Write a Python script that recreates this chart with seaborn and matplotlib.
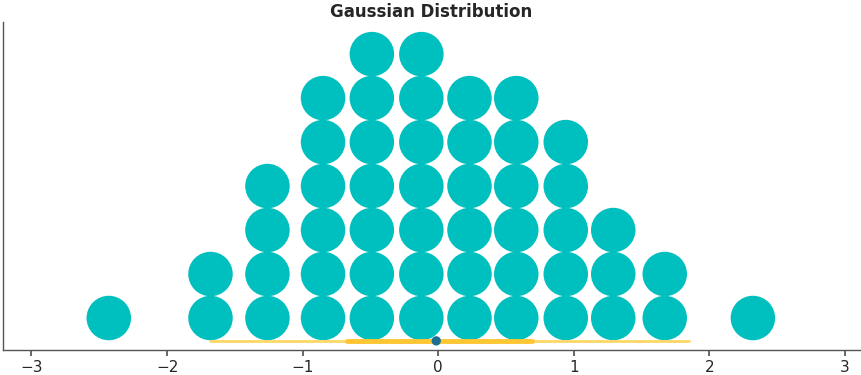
import numpy as np
import pandas as pd
import matplotlib
matplotlib.use("Agg")
import matplotlib.pyplot as plt
import seaborn as sns

# Dot-plot columns (bin centres) and number of stacked dots per column
bin_centers = [-2.43, -1.68, -1.26, -0.85, -0.49, -0.125, 0.23, 0.575, 0.94, 1.29, 1.67, 2.32]
counts = [1, 2, 4, 6, 7, 7, 6, 6, 5, 3, 2, 1]

# Summary statistics drawn at the bottom
point_estimate = -0.015
hdi_interval = [-1.68, 1.85]
inner_interval = [-0.67, 0.69]

title = "Gaussian Distribution"
xticks = [-3, -2, -1, 0, 1, 2, 3]

rows = []
for c, n in zip(bin_centers, counts):
    for k in range(n):
        rows.append({"x": c, "level": k})
df = pd.DataFrame(rows)

sns.set_theme(style="ticks")
fig = plt.figure(figsize=(8.62, 3.75), dpi=100)
ax = fig.add_axes([0.0035, 0.0667, 0.9942, 0.8743])

sns.scatterplot(data=df, x="x", y="level", s=1026, color="#00BFBF",
                edgecolor="none", linewidth=0, ax=ax, legend=False, zorder=2)

line_y = -0.52
sns.lineplot(x=hdi_interval, y=[line_y, line_y], color="#FFD766", linewidth=2,
             ax=ax, legend=False, zorder=3)
sns.lineplot(x=inner_interval, y=[line_y, line_y], color="#FFC633", linewidth=3.5,
             ax=ax, legend=False, zorder=4)
sns.scatterplot(x=[point_estimate], y=[line_y], color="#1B6F93", s=45,
                edgecolor="none", ax=ax, legend=False, zorder=5)

ax.set_xlim(-3.21, 3.11)
ax.set_ylim(-0.727, 6.727)
ax.set_xticks(xticks)
ax.set_xticklabels([str(t).replace("-", "\u2212") for t in xticks])
ax.set_yticks([])
ax.set_xlabel("")
ax.set_ylabel("")
ax.tick_params(axis="x", labelsize=11, colors="#262626", length=4, color="#555555")
for side in ["left", "bottom"]:
    ax.spines[side].set_color("#555555")
    ax.spines[side].set_linewidth(1)
sns.despine(ax=ax)
ax.set_title(title, fontsize=12, fontweight="bold", color="#262626", pad=4)

fig.savefig("out.png", dpi=100)
